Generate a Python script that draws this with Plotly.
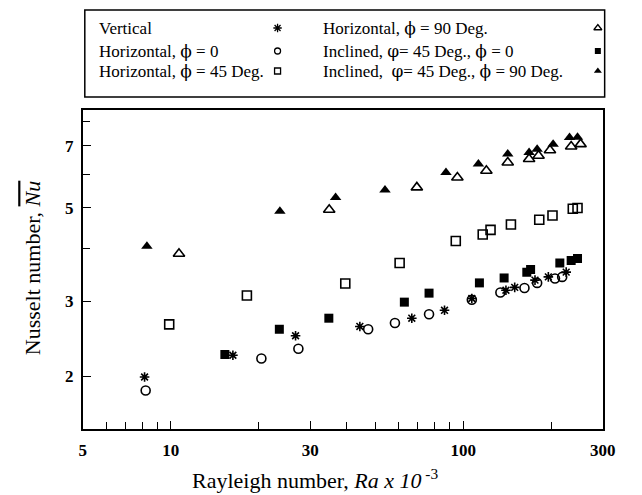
import plotly.graph_objects as go

# ---------------- data (Ra x 10^-3, Nu) ----------------
vert_x = [8.13, 16.3, 26.7, 44.3, 66.7, 86.3, 107, 140, 150, 176, 195.5, 225]
vert_y = [1.99, 2.24, 2.49, 2.62, 2.74, 2.86, 3.05, 3.19, 3.24, 3.37, 3.43, 3.52]

h0_x = [8.2, 20.4, 27.3, 47.3, 58.4, 76.4, 107, 134, 162, 179, 206, 218]
h0_y = [1.85, 2.20, 2.32, 2.58, 2.67, 2.80, 3.03, 3.15, 3.23, 3.32, 3.40, 3.43]

h45_x = [9.87, 18.2, 39.5, 60.6, 94.3, 116.6, 124, 145.6, 182, 202, 237, 246]
h45_y = [2.65, 3.10, 3.31, 3.70, 4.17, 4.32, 4.43, 4.56, 4.68, 4.79, 4.97, 4.99]

h90_x = [10.66, 34.8, 69.4, 95.5, 120, 142, 168, 181, 198, 234, 252]
h90_y = [3.89, 4.94, 5.58, 5.89, 6.11, 6.39, 6.51, 6.63, 6.83, 6.97, 7.06]

i0_x = [15.3, 23.5, 34.7, 62.9, 76.4, 113.6, 138, 165, 170, 214, 234, 246]
i0_y = [2.25, 2.58, 2.74, 2.99, 3.14, 3.32, 3.41, 3.52, 3.57, 3.70, 3.75, 3.79]

i90_x = [8.28, 23.6, 36.6, 54, 87.3, 112.7, 142, 168, 179, 203, 231, 246]
i90_y = [4.05, 4.90, 5.28, 5.50, 6.05, 6.34, 6.69, 6.75, 6.87, 7.06, 7.32, 7.33]

x_major = [5, 10, 30, 100, 300]
x_minor = [6, 7, 8, 9, 20, 40, 50, 60, 70, 80, 90, 200]
y_major = [2, 3, 5, 7]
y_minor = [4, 6, 8]

PHI = "<span style=\"font-family:'DejaVu Serif'\">\u03d5</span>"
PSI = "<span style=\"font-family:'DejaVu Serif'\">\u03c6</span>"
legend_labels = [
    "Vertical",
    "Horizontal, " + PHI + " = 0",
    "Horizontal, " + PHI + " = 45 Deg.",
    "Horizontal, " + PHI + " = 90 Deg.",
    "Inclined, " + PSI + "= 45 Deg., " + PHI + " = 0",
    "Inclined,\u00a0 " + PSI + "= 45 Deg., " + PHI + " = 90 Deg.",
]

# ---------------- styles ----------------
W, H = 642, 495
FONT = "Liberation Serif"
series = [
    (vert_x, vert_y, dict(symbol="asterisk-open", size=8, color="black", line=dict(color="black", width=1.6))),
    (h0_x, h0_y, dict(symbol="circle-open", size=9, color="black", line=dict(color="black", width=1.6))),
    (h45_x, h45_y, dict(symbol="square-open", size=9, color="black", line=dict(color="black", width=1.6))),
    (h90_x, h90_y, dict(symbol="triangle-up-open", size=10, color="black", line=dict(color="black", width=1.6))),
    (i0_x, i0_y, dict(symbol="square", size=9, color="black", line=dict(color="black", width=0))),
    (i90_x, i90_y, dict(symbol="triangle-up", size=10, color="black", line=dict(color="black", width=0))),
]
legend_sym_size = [7, 6, 6, 7, 6, 7]

fig = go.Figure()
for (xs, ys, mk), name in zip(series, legend_labels):
    fig.add_trace(go.Scatter(x=xs, y=ys, mode="markers", marker=mk, name=name,
                             showlegend=False, xaxis="x", yaxis="y"))

# ---------------- custom legend (pixel coordinates on helper axes) ----------------
box_l, box_r, box_t, box_b = 83, 617, 10, 97
row_y = [28, 51, 71]
col_text_x = [96, 326]
col_sym_x = [281, 610]
for i, (xs, ys, mk) in enumerate(series):
    col, row = divmod(i, 3)
    lm = dict(mk)
    lm["size"] = legend_sym_size[i]
    lm["line"] = dict(color="black", width=1.3 if "open" in mk["symbol"] else 0)
    fig.add_trace(go.Scatter(x=[col_sym_x[col]], y=[row_y[row]], mode="markers",
                             marker=lm, showlegend=False, hoverinfo="skip",
                             xaxis="x2", yaxis="y2"))
    fig.add_annotation(x=col_text_x[col], y=row_y[row], xref="x2", yref="y2",
                       text=legend_labels[i], showarrow=False, xanchor="left",
                       yanchor="middle", font=dict(family=FONT, size=17, color="black"))

fig.add_shape(type="rect", xref="x2 domain", yref="y2 domain", x0=0, x1=1, y0=0, y1=1,
              line=dict(color="black", width=1.5))

# ---------------- axes ----------------
pl, pr, pt, pb = 81, 615, 110, 429
axis_common = dict(showline=True, linecolor="black", linewidth=1.8, mirror=True,
                   ticks="inside", ticklen=8, tickwidth=1.3, tickcolor="black",
                   showgrid=False, zeroline=False,
                   tickfont=dict(family=FONT, size=17, color="black"))

fig.update_layout(
    width=W, height=H, margin=dict(l=0, r=0, t=0, b=0),
    paper_bgcolor="white", plot_bgcolor="white", showlegend=False,
    xaxis=dict(type="log", range=[0.69897, 2.47712], domain=[pl / W, pr / W],
               tickvals=x_major, ticktext=[f"<b>{v}</b>" for v in x_major],
               ticklabelstandoff=5,
               minor=dict(tickvals=x_minor, ticks="inside", ticklen=7, tickcolor="black", tickwidth=1.2),
               anchor="y", **axis_common),
    yaxis=dict(type="log", range=[0.17609, 0.92942], domain=[(H - pb) / H, (H - pt) / H],
               tickvals=y_major, ticktext=[f"<b>{v}</b>" for v in y_major],
               ticklabelstandoff=4,
               minor=dict(tickvals=y_minor, ticks="inside", ticklen=7, tickcolor="black", tickwidth=1.2),
               anchor="x", **axis_common),
    xaxis2=dict(range=[box_l, box_r], domain=[box_l / W, box_r / W], visible=False,
                anchor="y2", fixedrange=True),
    yaxis2=dict(range=[box_b, box_t], domain=[(H - box_b) / H, (H - box_t) / H], visible=False,
                anchor="x2", fixedrange=True),
)

fig.add_annotation(xref="paper", yref="paper", x=319 / W, y=(H - 479) / H,
                   text="Rayleigh number, <i>Ra x 10</i><sup> -3</sup>", showarrow=False,
                   xanchor="center", yanchor="middle",
                   font=dict(family=FONT, size=22, color="black"))
fig.add_annotation(xref="paper", yref="paper", x=30 / W, y=(H - 268) / H,
                   text="Nusselt number, <span style=\"text-decoration:overline\"><i>Nu</i></span>",
                   showarrow=False, textangle=-90, xanchor="center", yanchor="middle",
                   font=dict(family=FONT, size=22, color="black"))

fig.write_html("out.html")
